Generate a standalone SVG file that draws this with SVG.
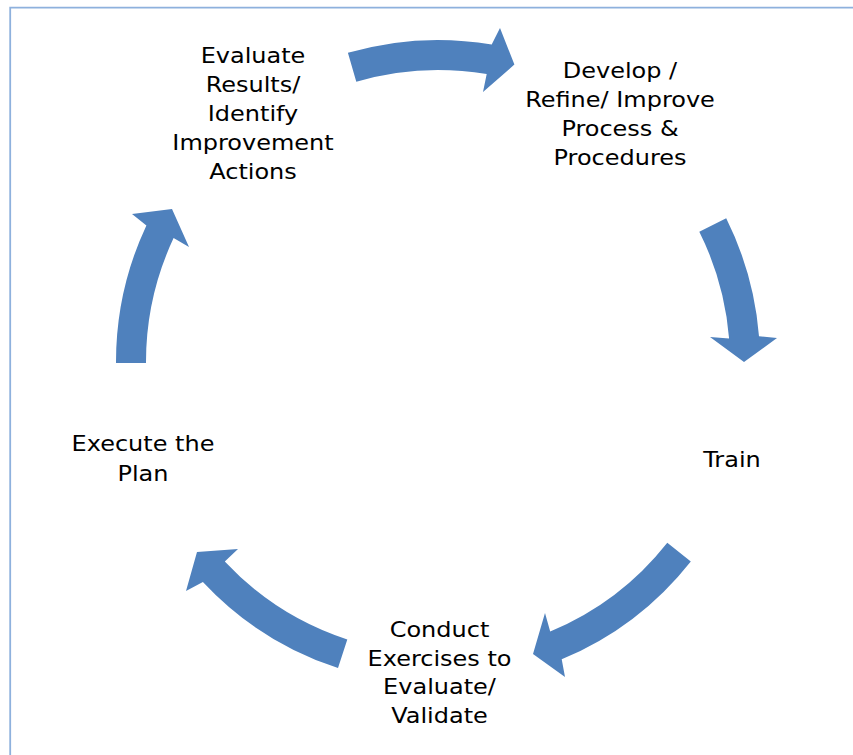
<svg xmlns="http://www.w3.org/2000/svg" width="853" height="755" viewBox="0 0 853 755">
<style>
.arrow{fill:#4f81bd;stroke:none}
.lbl{font-family:"DejaVu Sans","Verdana",sans-serif;font-size:20.5px;fill:#000;text-anchor:middle}
</style>
<rect width="853" height="755" fill="#fff"/>
<path d="M10.2 755 V7.7 H853" fill="none" stroke="#8eb1dd" stroke-width="1.8"/>
<g id="connectors">
<path class="arrow" d="M347.9 52.8 A322 322 0 0 1 491.7 44.5 L500 28 L514.4 64.6 L483 92 L486.7 74.1 A292 292 0 0 0 356.3 81.7 Z"/>
<path class="arrow" d="M726.2 218.3 A322 322 0 0 1 759 336.2 L777 338 L744 362 L710 337 L729.1 338.6 A292 292 0 0 0 699.3 231.7 Z"/>
<path class="arrow" d="M690.8 561.4 A322 322 0 0 1 561.7 659.3 L565 677 L533 654 L545 613 L550.2 631.6 A292 292 0 0 0 667.3 542.8 Z"/>
<path class="arrow" d="M338 668.1 A322 322 0 0 1 202.9 582 L186 591 L197 552 L238 549 L224.8 561.5 A292 292 0 0 0 347.3 639.5 Z"/>
<path class="arrow" d="M116 363.1 A322 322 0 0 1 146.4 225.4 L132 214 L172 209 L189 247 L173.6 238.1 A292 292 0 0 0 146 363 Z"/>
</g>
<g id="node-evaluate" transform="translate(253,0) scale(1.17,1)">
<text class="lbl"><tspan x="0" y="63">Evaluate</tspan><tspan x="0" y="92">Results/</tspan><tspan x="0" y="121">Identify</tspan><tspan x="0" y="150">Improvement</tspan><tspan x="0" y="179">Actions</tspan></text>
</g>
<g id="node-develop" transform="translate(620,0) scale(1.17,1)">
<text class="lbl"><tspan x="0" y="78">Develop /</tspan><tspan x="0" y="107">Refine/ Improve</tspan><tspan x="0" y="136">Process &amp;</tspan><tspan x="0" y="165">Procedures</tspan></text>
</g>
<g id="node-train" transform="translate(732,0) scale(1.17,1)">
<text class="lbl"><tspan x="0" y="467">Train</tspan></text>
</g>
<g id="node-conduct" transform="translate(439.5,0) scale(1.17,1)">
<text class="lbl"><tspan x="0" y="637.5">Conduct</tspan><tspan x="0" y="666">Exercises to</tspan><tspan x="0" y="694.5">Evaluate/</tspan><tspan x="0" y="723">Validate</tspan></text>
</g>
<g id="node-execute" transform="translate(143,0) scale(1.17,1)">
<text class="lbl"><tspan x="0" y="451.5">Execute the</tspan><tspan x="0" y="481">Plan</tspan></text>
</g>
</svg>
